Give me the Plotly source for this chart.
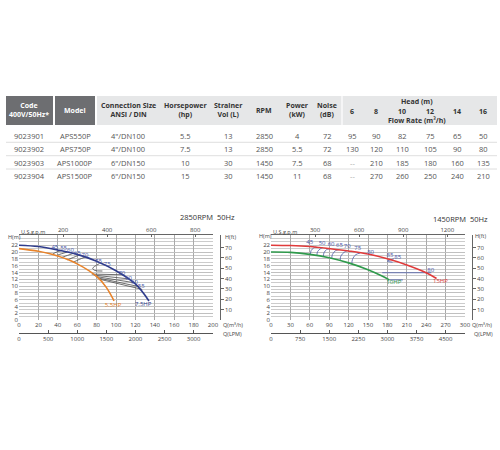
import plotly.graph_objects as go

# ---------------- table data ----------------
codes = ["9023901", "9023902", "9023903", "9023904"]
models = ["APS550P", "APS750P", "APS1000P", "APS1500P"]
connections = ['4"/DN100', '4"/DN100', '6"/DN150', '6"/DN150']
horsepower = ["5.5", "7.5", "10", "15"]
strainer_vol = ["13", "13", "30", "30"]
rpm = ["2850", "2850", "1450", "1450"]
power_kw = ["4", "5.5", "7.5", "11"]
noise_db = ["72", "72", "68", "68"]
head_m = ["6", "8", "10", "12", "14", "16"]
flow_9023901 = ["95", "90", "82", "75", "65", "50"]
flow_9023902 = ["130", "120", "110", "105", "90", "80"]
flow_9023903 = ["--", "210", "185", "180", "160", "135"]
flow_9023904 = ["--", "270", "260", "250", "240", "210"]
header_cols = ["Code<br>400V/50Hz*", "Model", "Connection Size<br>ANSI / DIN",
               "Horsepower<br>(hp)", "Strainer<br>Vol (L)", "RPM", "Power<br>(kW)", "Noise<br>(dB)"]

# ---------------- chart 1 (2850 RPM) ----------------
q_55hp = [0, 20, 40, 60, 80, 90, 98]
h_55hp = [21.0, 20.2, 18.8, 16.5, 12.8, 9.6, 5.6]
q_75hp = [0, 20, 40, 60, 80, 100, 120, 134]
h_75hp = [22.0, 21.6, 20.6, 19.3, 17.3, 14.5, 10.6, 5.6]
eff1_text = ["45", "55", "60", "65", "70", "75", "75", "70", "60", "60", "55"]
eff1_q = [37, 46, 53, 60, 68, 82, 91, 106, 113, 119, 126]
eff1_h = [21.4, 21.0, 20.4, 19.6, 19.0, 17.3, 16.2, 13.6, 12.2, 11.1, 9.8]
c1_45_q = [34, 38, 44]; c1_45_h = [19.2, 19.9, 20.4]
c1_55_q = [38, 44, 50]; c1_55_h = [18.9, 19.5, 20.0]
c1_60_q = [44, 50, 56]; c1_60_h = [18.4, 19.0, 19.6]
c1_65_q = [50, 56, 62]; c1_65_h = [17.7, 18.4, 19.1]
c1_70_q = [56, 62, 68]; c1_70_h = [17.0, 17.8, 18.5]
c1_75_q = [83, 76, 78, 86]; c1_75_h = [16.6, 15.2, 14.6, 14.4]
c1_l1_q = [75, 108]; c1_l1_h = [13.5, 13.3]
c1_l2_q = [77, 113]; c1_l2_h = [13.2, 12.1]
c1_l3_q = [79, 118]; c1_l3_h = [12.8, 11.0]
c1_l4_q = [81, 124]; c1_l4_h = [12.4, 9.8]
c1_l5_q = [83, 127]; c1_l5_h = [12.0, 9.0]

# ---------------- chart 2 (1450 RPM) ----------------
q_10hp = [0, 30, 60, 90, 120, 150, 170, 183]
h_10hp = [20.0, 19.9, 19.3, 18.3, 16.8, 14.8, 13.1, 11.8]
q_15hp = [0, 30, 60, 90, 120, 150, 180, 210, 240, 256]
h_15hp = [22.0, 21.9, 21.6, 21.0, 20.3, 19.4, 18.0, 16.2, 13.9, 12.2]
eff2_text = ["45", "50", "60", "65", "70", "75", "80", "85", "85", "80"]
eff2_q = [60, 79, 93, 106, 118, 134, 154, 184, 196, 247]
eff2_h = [22.9, 22.5, 22.1, 21.8, 21.5, 20.9, 20.0, 19.1, 18.5, 14.6]
c2_45_q = [61, 62, 66, 70]; c2_45_h = [19.3, 20.4, 21.2, 21.5]
c2_50_q = [71, 72, 76, 80]; c2_50_h = [19.0, 20.1, 20.9, 21.3]
c2_60_q = [81, 82, 86, 91]; c2_60_h = [18.6, 19.8, 20.7, 21.0]
c2_65_q = [94, 95, 100, 105]; c2_65_h = [18.1, 19.3, 20.4, 20.7]
c2_70_q = [107, 108, 113, 118]; c2_70_h = [17.5, 18.8, 19.9, 20.4]
c2_75_q = [125, 126, 131, 138]; c2_75_h = [16.4, 17.8, 19.2, 19.7]
c2_85_q = [190, 180, 188]; c2_85_h = [18.0, 17.3, 17.0]
c2_80_q = [172, 248]; c2_80_h = [13.9, 13.9]
c2_ext_q = [183, 204]; c2_ext_h = [11.8, 11.8]

M_TO_FT = 3.28084
M3H_TO_GPM = 4.40287
M3H_TO_LPM = 16.6667

W, H = 500, 450
def px(x): return x / W
def py(y): return 1 - y / H

FONT = "Open Sans"
NAVY = "#2f3c8c"
ORANGE = "#e8832a"
RED = "#e03a3a"
GREEN = "#2f9a4c"
LBL = "#4454a8"
CONT = "#4a4a4a"

fig = go.Figure()

def line(q, h, xa, ya, color, width=1.0):
    fig.add_trace(go.Scatter(x=q, y=h, xaxis=xa, yaxis=ya, mode="lines",
                             line=dict(color=color, width=width, shape="spline"),
                             hoverinfo="skip", showlegend=False))

def texts(q, h, t, xa, ya, color, size=6):
    fig.add_trace(go.Scatter(x=q, y=h, xaxis=xa, yaxis=ya, mode="text", text=t,
                             textfont=dict(color=color, size=size, family=FONT),
                             hoverinfo="skip", showlegend=False))

def dummy(xa, ya):
    fig.add_trace(go.Scatter(x=[], y=[], xaxis=xa, yaxis=ya, showlegend=False, hoverinfo="skip"))

# chart 1 contours
for cq, ch in [(c1_45_q, c1_45_h), (c1_55_q, c1_55_h), (c1_60_q, c1_60_h), (c1_65_q, c1_65_h),
               (c1_70_q, c1_70_h), (c1_75_q, c1_75_h), (c1_l1_q, c1_l1_h), (c1_l2_q, c1_l2_h),
               (c1_l3_q, c1_l3_h), (c1_l4_q, c1_l4_h), (c1_l5_q, c1_l5_h)]:
    line(cq, ch, "x", "y", CONT, 0.8)
line(q_55hp, h_55hp, "x", "y", ORANGE, 1.6)
line(q_75hp, h_75hp, "x", "y", NAVY, 1.6)
texts(eff1_q, eff1_h, eff1_text, "x", "y", LBL)
texts([97], [4.4], ["5.5HP"], "x", "y", ORANGE)
texts([128], [4.6], ["7.5HP"], "x", "y", NAVY)
dummy("x2", "y"); dummy("x3", "y"); dummy("x", "y2")

# chart 2 contours
for cq, ch in [(c2_45_q, c2_45_h), (c2_50_q, c2_50_h), (c2_60_q, c2_60_h), (c2_65_q, c2_65_h),
               (c2_70_q, c2_70_h), (c2_75_q, c2_75_h), (c2_85_q, c2_85_h), (c2_80_q, c2_80_h),
               (c2_ext_q, c2_ext_h)]:
    line(cq, ch, "x4", "y3", "#4a5aa8", 0.8)
line(q_10hp, h_10hp, "x4", "y3", GREEN, 1.6)
line(q_15hp, h_15hp, "x4", "y3", RED, 1.6)
texts(eff2_q, eff2_h, eff2_text, "x4", "y3", LBL)
texts([190], [11.0], ["10HP"], "x4", "y3", GREEN)
texts([262], [11.2], ["15HP"], "x4", "y3", RED)
dummy("x5", "y3"); dummy("x6", "y3"); dummy("x4", "y4")

tickfont = dict(size=6, color="#444", family=FONT)
ydom = [py(320), py(235)]

def main_x(dom, rng, dt, anchor):
    return dict(domain=dom, range=rng, tickvals=list(range(0, rng[1] + 1, dt)), showgrid=True,
                gridcolor="#a9a9a9", gridwidth=1, zeroline=False, showline=False, ticks="",
                tickfont=tickfont, anchor=anchor, fixedrange=True, automargin=False)

def main_y(anchor):
    return dict(domain=ydom, range=[0, 25], tickvals=list(range(0, 23, 2)), showgrid=True,
                gridcolor="#c0c0c0", gridwidth=0.8, zeroline=False, ticks="", tickfont=tickfont,
                minor=dict(dtick=1, showgrid=True, gridcolor="#cccccc", gridwidth=0.7),
                anchor=anchor, fixedrange=True, automargin=False, showline=False)

def ft_axis(overl, pos):
    return dict(overlaying=overl, side="right", anchor="free", position=pos,
                range=[0, 25 * M_TO_FT], tickvals=[10, 20, 30, 40, 50, 60, 70], showgrid=False,
                zeroline=False, showline=True, linecolor="#666", linewidth=0.8, ticks="outside",
                ticklen=3, tickcolor="#666", tickfont=tickfont, fixedrange=True, automargin=False)

def gpm_axis(overl, anchor, maxq, vals):
    return dict(overlaying=overl, side="top", anchor=anchor, range=[0, maxq * M3H_TO_GPM],
                tickvals=vals, showgrid=False, zeroline=False, showline=True, linecolor="#666",
                linewidth=0.8, ticks="inside", ticklen=2, tickcolor="#666", tickfont=tickfont,
                fixedrange=True, automargin=False)

def lpm_axis(overl, maxq, vals):
    return dict(overlaying=overl, side="bottom", anchor="free", position=py(333.3),
                range=[0, maxq * M3H_TO_LPM], tickvals=vals, showgrid=False, zeroline=False,
                showline=True, linecolor="#555", linewidth=0.9, ticks="inside", ticklen=3,
                tickcolor="#555", tickfont=tickfont, fixedrange=True, automargin=False)

shapes = []
annotations = []

def ann(x, y, text, size=7.5, color="#444", xanchor="center", bold=False):
    annotations.append(dict(xref="paper", yref="paper", x=px(x), y=py(y),
                            text=f"<b>{text}</b>" if bold else text, showarrow=False,
                            xanchor=xanchor, yanchor="middle",
                            font=dict(size=size, color=color, family=FONT)))

# table header shapes
shapes.append(dict(type="rect", xref="paper", yref="paper", x0=px(6), x1=px(53), y0=py(125), y1=py(96),
                   fillcolor="#6d6e71", line=dict(width=0), layer="below"))
shapes.append(dict(type="rect", xref="paper", yref="paper", x0=px(55), x1=px(95), y0=py(125), y1=py(96),
                   fillcolor="#6d6e71", line=dict(width=0), layer="below"))
shapes.append(dict(type="rect", xref="paper", yref="paper", x0=px(97), x1=px(497), y0=py(125), y1=py(96),
                   fillcolor="#e6e7e8", line=dict(width=0), layer="below"))
shapes.append(dict(type="line", xref="paper", yref="paper", x0=px(342), x1=px(342), y0=py(125), y1=py(96),
                   line=dict(color="white", width=1.2)))
for yy in [142.3, 155.7, 169.0]:
    shapes.append(dict(type="line", xref="paper", yref="paper", x0=px(6), x1=px(497), y0=py(yy), y1=py(yy),
                       line=dict(color="#d6d6d6", width=0.8)))

col_x = [29, 75, 128, 185, 228, 264, 297, 327]
head_x = [352, 376, 402, 430, 457, 483]
row_y = [135.5, 149, 162.5, 176]

for i, t in enumerate(header_cols):
    ann(col_x[i], 110.5, t, size=7, color="white" if i < 2 else "#333", bold=True)
ann(417, 101.5, "Head (m)", size=7, color="#333", bold=True)
for i, t in enumerate(head_m):
    ann(head_x[i], 111.5, t, size=7, color="#333", bold=True)
ann(417, 120.5, "Flow Rate (m³/h)", size=7, color="#333", bold=True)

flows = [flow_9023901, flow_9023902, flow_9023903, flow_9023904]
for r in range(4):
    vals = [codes[r], models[r], connections[r], horsepower[r], strainer_vol[r], rpm[r], power_kw[r], noise_db[r]]
    for i, v in enumerate(vals):
        ann(col_x[i], row_y[r], v, size=7.5, color="#555")
    for i, v in enumerate(flows[r]):
        ann(head_x[i], row_y[r], v, size=7.5, color="#555" if v != "--" else "#aaa")

# chart labels
ann(237, 217, "2850RPM  50Hz", size=7.5, color="#333", xanchor="right")
ann(490, 219, "1450RPM  50Hz", size=7.5, color="#333", xanchor="right")
ann(19, 231.5, "U.S.g.p.m", size=5.5, color="#444", xanchor="left")
ann(271, 231.5, "U.S.g.p.m", size=5.5, color="#444", xanchor="left")
ann(6, 236.5, "H(m)", size=5.5, color="#444", xanchor="left")
ann(257, 235.5, "H(m)", size=5.5, color="#444", xanchor="left")
ann(223, 237, "H(ft)", size=5.5, color="#444", xanchor="left")
ann(473, 236, "H(ft)", size=5.5, color="#444", xanchor="left")
ann(221, 325, "Q(m³/h)", size=5.5, color="#444", xanchor="left")
ann(470, 325, "Q(m³/h)", size=5.5, color="#444", xanchor="left")
ann(221, 333.5, "Q(LPM)", size=5.5, color="#444", xanchor="left")
ann(472, 333.5, "Q(LPM)", size=5.5, color="#444", xanchor="left")

fig.update_layout(
    template="none",
    width=W, height=H, margin=dict(l=0, r=0, t=0, b=0, autoexpand=False),
    paper_bgcolor="white", plot_bgcolor="white", showlegend=False, hovermode=False,
    font=dict(family=FONT),
    xaxis=main_x([px(19), px(213)], [0, 200], 20, "y"),
    yaxis=main_y("x"),
    yaxis2=ft_axis("y", px(220)),
    xaxis2=gpm_axis("x", "y", 200, [200, 400, 600, 800]),
    xaxis3=lpm_axis("x", 200, [0, 500, 1000, 1500, 2000, 2500, 3000]),
    xaxis4=main_x([px(271), px(465)], [0, 300], 30, "y3"),
    yaxis3=main_y("x4"),
    yaxis4=ft_axis("y3", px(472)),
    xaxis5=gpm_axis("x4", "y3", 300, [300, 600, 900, 1200]),
    xaxis6=lpm_axis("x4", 300, [0, 750, 1500, 2250, 3000, 3750, 4500]),
    shapes=shapes, annotations=annotations,
)

fig.write_html("out.html", config={"displayModeBar": False},
               post_script="document.body.style.margin='0';document.body.style.overflow='hidden';")
